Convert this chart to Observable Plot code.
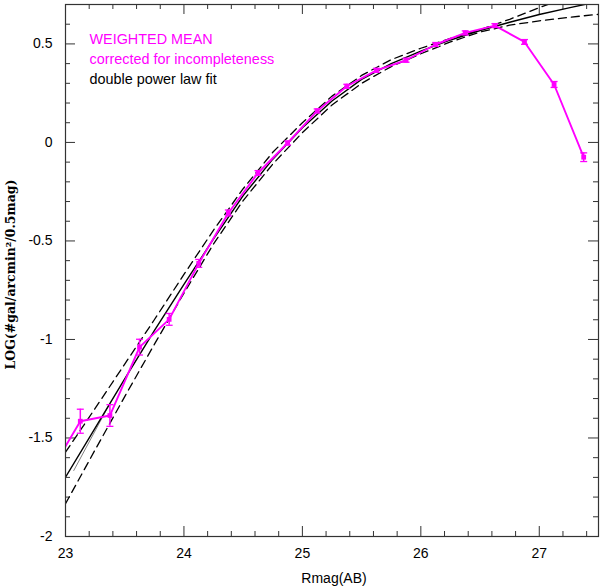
<!DOCTYPE html>
<html>
<head>
<meta charset="utf-8">
<script src="https://cdn.jsdelivr.net/npm/d3@7"></script>
<script src="https://cdn.jsdelivr.net/npm/@observablehq/plot@0.6"></script>
<style>
  html, body { margin: 0; padding: 0; background: #fff; }
  #chart svg { display: block; }
</style>
</head>
<body>
<div id="chart"></div>
<script>
// ---- data ----
const mag    = [22.875, 23.125, 23.375, 23.625, 23.875, 24.125, 24.375, 24.625, 24.875, 25.125, 25.375, 25.625, 25.875, 26.125, 26.375, 26.625, 26.875, 27.125, 27.375];
const logN   = [-1.67, -1.415, -1.386, -1.039, -0.898, -0.614, -0.358, -0.155, -0.003, 0.160, 0.285, 0.366, 0.417, 0.497, 0.556, 0.593, 0.510, 0.294, -0.075];
const logErr = [0, 0.061, 0.055, 0.040, 0.030, 0.020, 0.015, 0.012, 0.010, 0.010, 0.010, 0.010, 0.010, 0.010, 0.010, 0.010, 0.012, 0.015, 0.022];

const fitMag   = [23.0, 23.25, 23.5, 23.75, 24.0, 24.25, 24.5, 24.75, 25.0, 25.25, 25.5, 25.75, 26.0, 26.25, 26.5, 26.75, 27.0, 27.25, 27.5];
const fitSolid = [-1.699, -1.45, -1.20, -0.955, -0.72, -0.49, -0.27, -0.085, 0.075, 0.21, 0.32, 0.40, 0.463, 0.52, 0.568, 0.61, 0.649, 0.683, 0.715];
const fitUpper = [-1.572, -1.35, -1.125, -0.90, -0.67, -0.445, -0.235, -0.05, 0.10, 0.235, 0.34, 0.42, 0.478, 0.528, 0.572, 0.625, 0.684, 0.74, 0.79];
const fitLower = [-1.834, -1.56, -1.29, -1.025, -0.765, -0.515, -0.295, -0.11, 0.05, 0.19, 0.30, 0.385, 0.45, 0.51, 0.56, 0.595, 0.617, 0.635, 0.65];

const thinMag = [23.07, 23.37];
const thinLog = [-1.665, -1.33];

const xMajor = [23, 24, 25, 26, 27];
const xMinor = [23.2, 23.4, 23.6, 23.8, 24.2, 24.4, 24.6, 24.8, 25.2, 25.4, 25.6, 25.8, 26.2, 26.4, 26.6, 26.8, 27.2, 27.4];
const yMajor = [-2, -1.5, -1, -0.5, 0, 0.5];
const yMajorLabels = ["-2", "-1.5", "-1", "-0.5", "0", "0.5"];
const yMinor = [-1.9, -1.8, -1.7, -1.6, -1.4, -1.3, -1.2, -1.1, -0.9, -0.8, -0.7, -0.6, -0.4, -0.3, -0.2, -0.1, 0.1, 0.2, 0.3, 0.4, 0.6, 0.7];

const legendLines  = ["WEIGHTED MEAN", "corrected for incompleteness", "double power law fit"];
const legendColors = ["#ff00ff", "#ff00ff", "#000000"];

const xTitle = "Rmag(AB)";
const yTitle = "LOG(#gal/arcmin\u00B2/0.5mag)";

// ---- tables ----
const points = mag.map((m, i) => ({m, v: logN[i], e: logErr[i]}));
const shown = points.filter(d => d.m >= 23);
const fits = fitMag.map((m, i) => ({m, s: fitSolid[i], u: fitUpper[i], l: fitLower[i]}));
const thin = thinMag.map((m, i) => ({m, v: thinLog[i]}));

const MAG = "#ff00ff";
const TICK = "#333";
const capSymbol = { draw(ctx) { ctx.moveTo(-3.5, 0); ctx.lineTo(3.5, 0); } };

const W = 600, H = 586, mT = 4, mB = 50, mL = 65, mR = 2;
const innerH = H - mT - mB, innerW = W - mL - mR;
const majLen = 10, minLen = 5;

const legendMarks = legendLines.map((t, i) =>
  Plot.text([t], {text: d => d, fill: legendColors[i], frameAnchor: "top-left", textAnchor: "start",
    lineAnchor: "middle", dx: 24, dy: 35 + i * 19.8, fontSize: 14.4}));

const chart = Plot.plot({
  width: W, height: H,
  marginTop: mT, marginBottom: mB, marginLeft: mL, marginRight: mR,
  x: {domain: [23, 27.5]},
  y: {domain: [-2, 0.7]},
  style: {fontFamily: "'Liberation Sans', Arial, Helvetica, sans-serif", background: "#fff"},
  marks: [
    // tick marks, all four sides, pointing inward
    Plot.ruleX(xMajor, {x: d => d, insetTop: innerH - majLen, stroke: TICK}),
    Plot.ruleX(xMajor, {x: d => d, insetBottom: innerH - majLen, stroke: TICK}),
    Plot.ruleX(xMinor, {x: d => d, insetTop: innerH - minLen, stroke: TICK}),
    Plot.ruleX(xMinor, {x: d => d, insetBottom: innerH - minLen, stroke: TICK}),
    Plot.ruleY(yMajor, {y: d => d, insetRight: innerW - majLen, stroke: TICK}),
    Plot.ruleY(yMajor, {y: d => d, insetLeft: innerW - majLen, stroke: TICK}),
    Plot.ruleY(yMinor, {y: d => d, insetRight: innerW - minLen, stroke: TICK}),
    Plot.ruleY(yMinor, {y: d => d, insetLeft: innerW - minLen, stroke: TICK}),

    // axis labels
    Plot.axisX(xMajor, {tickSize: 0, tickPadding: 12, fontSize: 14, fill: "#000", label: null,
      tickFormat: d => String(d)}),
    Plot.axisY(yMajor, {tickSize: 0, tickPadding: 13, fontSize: 14, fill: "#000", label: null,
      tickFormat: (d) => yMajorLabels[yMajor.indexOf(d)]}),

    // fits
    Plot.line(fits, {x: "m", y: "u", stroke: "#000", strokeWidth: 1.3, strokeDasharray: "8,5", clip: true}),
    Plot.line(fits, {x: "m", y: "l", stroke: "#000", strokeWidth: 1.3, strokeDasharray: "8,5", clip: true}),
    Plot.line(fits, {x: "m", y: "s", stroke: "#000", strokeWidth: 1.4, clip: true}),
    Plot.line(thin, {x: "m", y: "v", stroke: "#000", strokeWidth: 0.5, clip: true}),

    // data
    Plot.line(points, {x: "m", y: "v", stroke: MAG, strokeWidth: 1.9, clip: true}),
    Plot.ruleX(shown, {x: "m", y1: d => d.v - d.e, y2: d => d.v + d.e, stroke: MAG, strokeWidth: 1.5}),
    Plot.dot(shown, {x: "m", y: d => d.v + d.e, symbol: capSymbol, stroke: MAG, strokeWidth: 1.3, fill: "none"}),
    Plot.dot(shown, {x: "m", y: d => d.v - d.e, symbol: capSymbol, stroke: MAG, strokeWidth: 1.3, fill: "none"}),
    Plot.dot(shown, {x: "m", y: "v", symbol: "square", r: 2.7, fill: MAG, stroke: "none"}),

    Plot.frame({stroke: TICK, strokeWidth: 1.2}),

    // legend text
    ...legendMarks,

    // axis titles
    Plot.text([xTitle], {text: d => d, frameAnchor: "bottom", lineAnchor: "bottom", dx: 2, dy: 46, fontSize: 14, fill: "#000"}),
    Plot.text([yTitle], {text: d => d, frameAnchor: "left", textAnchor: "middle", lineAnchor: "middle",
      rotate: -90, dx: -54.5, dy: 4, fontSize: 12.5,
      fontWeight: "bold", fontFamily: "DejaVu Serif", fill: "#000"})
  ]
});
document.getElementById("chart").appendChild(chart);
</script>
</body>
</html>
